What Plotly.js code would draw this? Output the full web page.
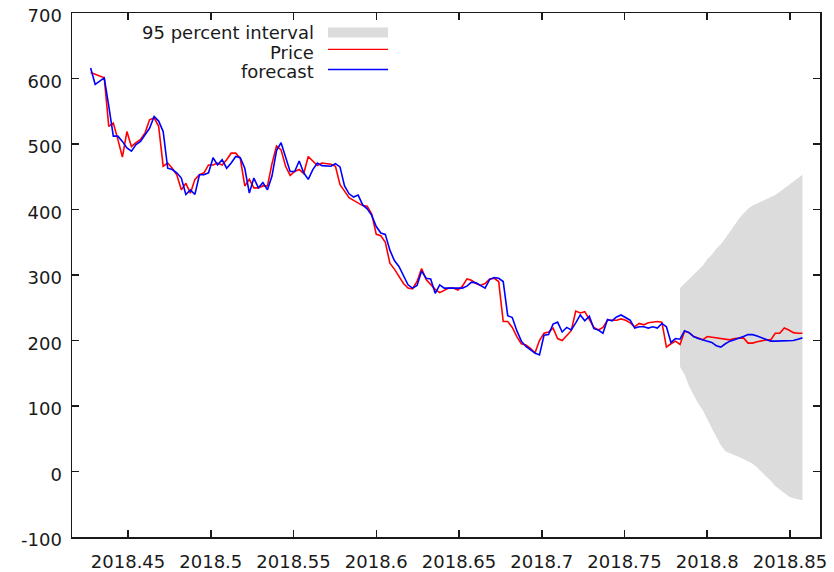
<!DOCTYPE html>
<html>
<head>
<meta charset="utf-8">
<script src="https://cdn.plot.ly/plotly-3.0.1.min.js"></script>
<style>
  html, body { margin: 0; padding: 0; background: #ffffff; }
  #chart { width: 834px; height: 572px; }
</style>
</head>
<body>
<div id="chart"></div>
<script>
// Daily closing price and one-step forecast, June to November 2018.
const year = 2018;
const firstDay = 156;          // day of year of the first observation
const daysInYear = 365;

const price = [
  609, 606, 603, 601, 527, 532, 507, 480, 519, 496,
  502, 507, 517, 537, 540, 527, 466, 471, 463, 453,
  430, 440, 425, 446, 453, 456, 468, 468, 471, 468,
  476, 486, 486, 478, 436, 446, 433, 433, 436, 436,
  470, 497, 491, 466, 452, 458, 461, 455, 481, 474,
  467, 471, 470, 469, 466, 438, 428, 418, 414, 410,
  406, 405, 393, 362, 360, 350, 318, 309, 298, 287,
  280, 279, 290, 310, 293, 285, 278, 273, 277, 280,
  280, 277, 283, 294, 292, 287, 284, 287, 294, 295,
  290, 229, 229, 220, 206, 195, 193, 188, 181, 200,
  211, 213, 219, 203, 200, 208, 215, 245, 242, 244,
  232, 220, 216, 220, 231, 231, 231, 233, 231, 227,
  221, 226, 224, 227, 228, 229, 228, 190, 195, 199,
  194, 214, 212, 206, 204, 201, 206, 205, 204, 204,
  203, 201, 203, 204, 204, 196, 196, 198, 200, 201,
  201, 211, 211, 219, 216, 212, 211, 211
];

const forecast = [
  616, 591, 596, 601, 558, 512, 512, 504, 494, 489,
  499, 504, 514, 524, 542, 535, 519, 463, 461, 456,
  448, 423, 430, 423, 453, 453, 456, 479, 468, 476,
  463, 471, 481, 479, 463, 425, 448, 433, 441, 430,
  451, 490, 502, 481, 458, 458, 474, 456, 446, 461,
  471, 467, 466, 466, 470, 465, 436, 424, 419, 422,
  407, 401, 391, 374, 364, 362, 338, 322, 313, 300,
  285, 280, 284, 306, 295, 294, 272, 285, 280, 280,
  280, 280, 280, 283, 289, 288, 284, 280, 293, 296,
  295, 290, 238, 235, 215, 199, 191, 186, 181, 178,
  208, 209, 225, 228, 213, 220, 216, 227, 239, 230,
  237, 218, 216, 211, 232, 230, 236, 239, 235, 231,
  219, 221, 221, 219, 221, 219, 226, 221, 197, 203,
  202, 215, 212, 206, 203, 201, 200, 197, 192, 190,
  195, 199, 201, 203, 206, 209, 209, 207, 204, 201,
  199, 199, 199, 199, 199, 200, 202, 204
];

// 95 percent interval over the test period (starts at observation index bandStart)
const bandStart = 130;
const upper95 = [
  280, 287, 293, 300, 307, 314, 324, 331, 340, 347,
  356, 366, 376, 386, 394, 401, 406, 409, 412, 416,
  419, 422, 427, 432, 438, 442, 448, 453
];
const lower95 = [
  160, 148, 130, 116, 104, 94, 80, 66, 52, 40,
  31, 28, 25, 22, 19, 16, 12, 6, 0, -7,
  -14, -22, -27, -33, -38, -41, -43, -44
];

const xTickVals = [2018.45, 2018.5, 2018.55, 2018.6, 2018.65, 2018.7, 2018.75, 2018.8, 2018.85];
const xTickText = ['2018.45', '2018.5', '2018.55', '2018.6', '2018.65', '2018.7', '2018.75', '2018.8', '2018.85'];
const yTickVals = [-100, 0, 100, 200, 300, 400, 500, 600, 700];
const yTickText = ['-100', '0', '100', '200', '300', '400', '500', '600', '700'];
const legendLabels = ['95 percent interval', 'Price', 'forecast'];

const colors = { band: '#dcdcdc', price: '#ff0000', forecast: '#0000ff', ink: '#1a1a1a' };
const font = { family: 'DejaVu Sans, sans-serif', size: 18, color: colors.ink };

// time axis in fractional years
const t = price.map((_, i) => year + (firstDay + i) / daysInYear);
const bandT = upper95.map((_, k) => t[bandStart + k]);

const bandTrace = {
  x: bandT.concat(bandT.slice().reverse()),
  y: upper95.concat(lower95.slice().reverse()),
  type: 'scatter', mode: 'lines', fill: 'toself',
  fillcolor: colors.band, line: { width: 0, color: colors.band },
  name: legendLabels[0], showlegend: false, hoverinfo: 'skip'
};
const priceTrace = {
  x: t, y: price, type: 'scatter', mode: 'lines',
  line: { color: colors.price, width: 1.6 },
  name: legendLabels[1], showlegend: false
};
const forecastTrace = {
  x: t, y: forecast, type: 'scatter', mode: 'lines',
  line: { color: colors.forecast, width: 1.6 },
  name: legendLabels[2], showlegend: false
};

const axisCommon = {
  showgrid: false, zeroline: false,
  showline: true, linecolor: colors.ink, linewidth: 1.5, mirror: 'ticks',
  ticks: 'inside', ticklen: 7, tickwidth: 1.5, tickcolor: colors.ink,
  tickfont: font, tickmode: 'array'
};

// key drawn in the upper left: labels right-aligned, samples to their right
const keyTextX = 0.3262;
const keyX0 = 0.3422, keyX1 = 0.4225;
const keyRowY = [0.9628, 0.9245, 0.8883];

const layout = {
  width: 834, height: 572,
  margin: { l: 72, r: 14, t: 13, b: 35, pad: 0 },
  paper_bgcolor: '#ffffff', plot_bgcolor: '#ffffff',
  showlegend: false,
  xaxis: Object.assign({}, axisCommon, {
    range: [2018.41613, 2018.86815],
    tickvals: xTickVals, ticktext: xTickText, ticklabelstandoff: 8
  }),
  yaxis: Object.assign({}, axisCommon, {
    range: [-100, 700],
    tickvals: yTickVals, ticktext: yTickText,
    ticklabelstandoff: 5, ticklabelshift: 3
  }),
  annotations: legendLabels.map((label, k) => ({
    text: label, xref: 'paper', yref: 'paper',
    x: keyTextX, y: keyRowY[k], xanchor: 'right', yanchor: 'middle',
    showarrow: false, font: font
  })),
  shapes: [
    { type: 'rect', xref: 'paper', yref: 'paper', x0: keyX0, x1: keyX1,
      y0: keyRowY[0] - 0.0095, y1: keyRowY[0] + 0.0095,
      fillcolor: colors.band, line: { width: 0 } },
    { type: 'line', xref: 'paper', yref: 'paper', x0: keyX0, x1: keyX1,
      y0: keyRowY[1] + 0.006, y1: keyRowY[1] + 0.006,
      line: { color: colors.price, width: 1.4 } },
    { type: 'line', xref: 'paper', yref: 'paper', x0: keyX0, x1: keyX1,
      y0: keyRowY[2] + 0.004, y1: keyRowY[2] + 0.004,
      line: { color: colors.forecast, width: 1.4 } }
  ]
};

Plotly.newPlot('chart', [bandTrace, priceTrace, forecastTrace], layout,
  { displayModeBar: false, staticPlot: true });
</script>
</body>
</html>
